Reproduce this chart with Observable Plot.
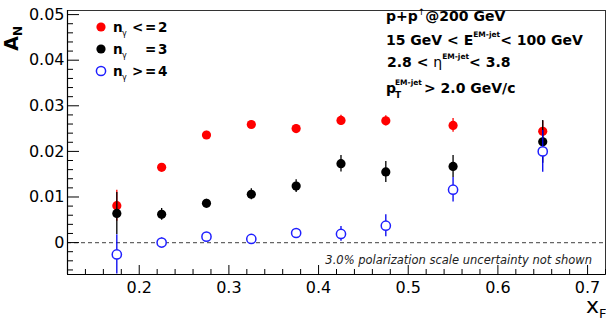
<!DOCTYPE html>
<html><head><meta charset="utf-8">
<script src="https://cdn.jsdelivr.net/npm/d3@7"></script>
<script src="https://cdn.jsdelivr.net/npm/@observablehq/plot@0.6"></script>
<style>
body{margin:0;background:#fff;}
#chart{width:606px;height:320px;overflow:hidden;}
svg{display:block;}
</style></head><body><div id="chart"></div>
<script>
// ---- data ----
const xF = [0.175, 0.225, 0.275, 0.325, 0.375, 0.425, 0.475, 0.55, 0.65];
const anLow  = [0.0081, 0.0165, 0.0236, 0.0259, 0.0250, 0.0268, 0.0267, 0.0257, 0.0244];
const errLow = [0.0034, 0.0008, 0.0008, 0.0008, 0.0009, 0.0011, 0.0011, 0.0015, 0.0022];
const anMid  = [0.0064, 0.0062, 0.0086, 0.0106, 0.0124, 0.0173, 0.0155, 0.0167, 0.0221];
const errMid = [0.0046, 0.0013, 0.0009, 0.0012, 0.0014, 0.0018, 0.0023, 0.0024, 0.0047];
const anHigh  = [-0.0026, 0.0000, 0.0013, 0.0008, 0.0021, 0.0019, 0.0037, 0.0116, 0.0200];
const errHigh = [0.0043, 0.0010, 0.0006, 0.0006, 0.0010, 0.0016, 0.0024, 0.0027, 0.0046];
const seriesLabels = ["< = 2", "= 3", "> = 4"];
const yTicks = [0, 0.01, 0.02, 0.03, 0.04, 0.05];
const yTickLabels = ["0", "0.01", "0.02", "0.03", "0.04", "0.05"];
const xTicks = [0.2, 0.3, 0.4, 0.5, 0.6, 0.7];
const xTickLabels = ["0.2", "0.3", "0.4", "0.5", "0.6", "0.7"];
const infoLines = ["p+p", "@200 GeV", "15 GeV < E", "< 100 GeV", "2.8 < ", "< 3.8", "> 2.0 GeV/c"];
const note = "3.0% polarization scale uncertainty not shown";

// ---- build tables ----
const mk = (vals, errs) => xF.map((x, i) => ({x, y: vals[i], lo: vals[i] - errs[i], hi: vals[i] + errs[i]}));
const dLow = mk(anLow, errLow), dMid = mk(anMid, errMid), dHigh = mk(anHigh, errHigh);
const yMinor = d3.range(-6, 51, 2).filter(v => v % 10 !== 0).map(v => v / 1000);
const xMinor = d3.range(12, 73, 2).filter(v => v % 10 !== 0).map(v => v / 100);

const W = 606, H = 320, ML = 67, MR = 1, MT = 10, MB = 46;
const xDom = [0.12, 0.72], yDom = [-0.007, 0.0509];
const xPerPx = (xDom[1] - xDom[0]) / (W - ML - MR);
const yPerPx = (yDom[1] - yDom[0]) / (H - MT - MB);

const RED = "#ff0000", BLK = "#000000", BLU = "#1f1fff";
const FONT = "DejaVu Sans, Liberation Sans, sans-serif";
const R = 4.6;

const plot = Plot.plot({
  width: W, height: H,
  marginLeft: ML, marginRight: MR, marginTop: MT, marginBottom: MB,
  x: {domain: xDom, label: null},
  y: {domain: yDom, label: null},
  style: {fontFamily: FONT, background: "#fff", color: "#000"},
  marks: [
    Plot.ruleY([0], {stroke: "#666", strokeWidth: 1.4, strokeDasharray: "4,3"}),
    Plot.ruleX(dLow, {x: "x", y1: "lo", y2: "hi", stroke: RED, strokeWidth: 1.3, clip: true}),
    Plot.dot(dLow, {x: "x", y: "y", r: R, fill: RED, stroke: "none"}),
    Plot.ruleX(dMid, {x: "x", y1: "lo", y2: "hi", stroke: BLK, strokeWidth: 1.3, clip: true}),
    Plot.dot(dMid, {x: "x", y: "y", r: R, fill: BLK, stroke: "none"}),
    Plot.ruleX(dHigh, {x: "x", y1: "lo", y2: "hi", stroke: "#0000ee", strokeWidth: 1.3, clip: true}),
    Plot.dot(dHigh, {x: "x", y: "y", r: R, fill: "#fff", stroke: BLU, strokeWidth: 1.5}),
    Plot.frame({stroke: "#333", strokeWidth: 1}),
    // inward ticks
    Plot.ruleY(yTicks, {x1: xDom[0], x2: xDom[0] + 12 * xPerPx, stroke: "#000", strokeWidth: 1}),
    Plot.ruleY(yMinor, {x1: xDom[0], x2: xDom[0] + 6 * xPerPx, stroke: "#000", strokeWidth: 1}),
    Plot.ruleX(xTicks, {y1: yDom[0], y2: yDom[0] + 9 * yPerPx, stroke: "#000", strokeWidth: 1}),
    Plot.ruleX(xMinor, {y1: yDom[0], y2: yDom[0] + 5 * yPerPx, stroke: "#000", strokeWidth: 1}),
    // tick labels
    Plot.axisY(yTicks, {anchor: "left", tickSize: 0, tickPadding: 3, fontSize: 16, label: null,
      tickFormat: d => yTickLabels[yTicks.indexOf(d)]}),
    Plot.axisX(xTicks, {anchor: "bottom", tickSize: 0, tickPadding: 7, fontSize: 16, label: null,
      tickFormat: d => xTickLabels[xTicks.indexOf(d)]}),
    Plot.ruleX([xDom[0]], {stroke: "#000", strokeWidth: 1.2}),
    Plot.ruleY([yDom[0]], {stroke: "#000", strokeWidth: 1.2})
  ]
});
document.getElementById("chart").appendChild(plot);

// ---- annotations ----
const svg = d3.select(plot);
const g = svg.append("g").attr("font-family", FONT).attr("text-anchor", "start").attr("fill", "#000");

// legend
const legY = [27, 49, 71];
const legCol = [RED, BLK, BLU];
legY.forEach((cy, i) => {
  g.append("circle").attr("cx", 101).attr("cy", cy).attr("r", R)
    .attr("fill", i === 2 ? "#fff" : legCol[i]).attr("stroke", i === 2 ? BLU : "none").attr("stroke-width", 1.5);
  const t = g.append("text").attr("y", cy + 5).attr("font-weight", "bold").attr("font-size", 13.5);
  t.append("tspan").attr("x", 113).text("n");
  t.append("tspan").attr("x", 122).attr("dy", 4).attr("font-size", 8).attr("font-weight", "normal").text("γ");
  const parts = seriesLabels[i].split(" ");
  const xs = parts.length === 3 ? [132, 145, 158] : [145, 158];
  parts.forEach((p, j) => {
    t.append("tspan").attr("x", xs[j]).attr("dy", j === 0 ? -4 : 0).text(p);
  });
});

// info block
const info = g.append("g").attr("font-weight", "bold").attr("font-size", 14);
let t1 = info.append("text").attr("x", 386).attr("y", 21);
t1.append("tspan").text(infoLines[0]);
t1.append("tspan").attr("dy", -6).attr("font-size", 9).attr("font-weight", "normal").text("↑");
t1.append("tspan").attr("dy", 6).text(infoLines[1]);
let t2 = info.append("text").attr("x", 386).attr("y", 45);
t2.append("tspan").text(infoLines[2]);
t2.append("tspan").attr("dy", -8).attr("font-size", 7.5).text("EM-jet");
t2.append("tspan").attr("dy", 8).text(infoLines[3]);
let t3 = info.append("text").attr("x", 387).attr("y", 67);
t3.append("tspan").text(infoLines[4]);
t3.append("tspan").attr("font-weight", "normal").text("η");
t3.append("tspan").attr("dy", -8).attr("font-size", 7.5).text("EM-jet");
t3.append("tspan").attr("dy", 8).text(infoLines[5]);
let t4 = info.append("text").attr("x", 386).attr("y", 93);
t4.append("tspan").text("p");
t4.append("tspan").attr("x", 395).attr("dy", 5).attr("font-size", 9).text("T");
t4.append("tspan").attr("x", 395).attr("dy", -13).attr("font-size", 7.5).text("EM-jet");
t4.append("tspan").attr("x", 424).attr("dy", 8).text(infoLines[6]);

// note
g.append("text").attr("x", 592).attr("y", 264).attr("text-anchor", "end")
  .attr("font-size", 11.5).attr("font-style", "italic").attr("fill", "#222").text(note);

// axis titles
const yt = g.append("text").attr("transform", "translate(18,26) rotate(-90)").attr("text-anchor", "end")
  .attr("font-weight", "bold").attr("font-size", 19);
yt.append("tspan").text("A");
yt.append("tspan").attr("dy", 4).attr("font-size", 12).text("N");
const xt = g.append("text").attr("x", 586).attr("y", 313).attr("font-size", 22);
xt.append("tspan").text("x");
xt.append("tspan").attr("dy", 5).attr("font-size", 13).text("F");
</script></body></html>
